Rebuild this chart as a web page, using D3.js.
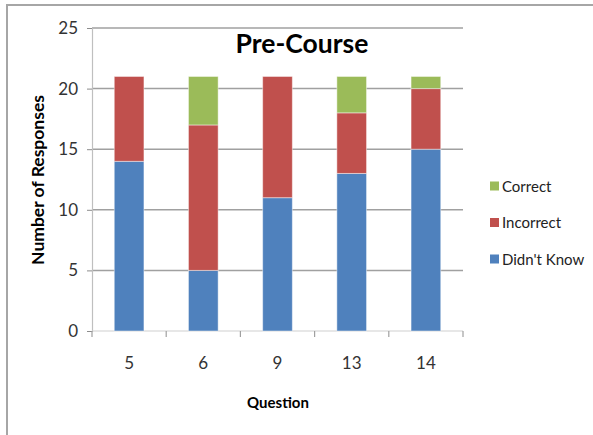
<!DOCTYPE html>
<html>
<head>
<meta charset="utf-8">
<script src="https://cdn.jsdelivr.net/npm/d3@7/dist/d3.min.js"></script>
<style>
  html, body { margin: 0; padding: 0; background: #fff; }
  svg { display: block; }
  text { font-family: Lato, "Open Sans", sans-serif; }
</style>
</head>
<body>
<svg id="chart" width="593" height="435"></svg>
<script>
// Survey responses per question, stacked by answer type
const questions = ["5", "6", "9", "13", "14"];
const didntKnow = [14, 5, 11, 13, 15];
const incorrect = [7, 12, 10, 5, 5];
const correct   = [0, 4, 0, 3, 1];
const seriesNames = ["Didn't Know", "Incorrect", "Correct"];
const seriesColors = ["#4F81BD", "#C0504D", "#9BBB59"];
const yTicks = [0, 5, 10, 15, 20, 25];

const svg = d3.select("#chart");
const W = 593, H = 435;
const m = { left: 92, right: 463, top: 28, bottom: 331 };

// frame: top and left edges
svg.append("path")
  .attr("d", `M7,${H} L7,5 L${W},5`)
  .attr("fill", "none").attr("stroke", "#a6a6a6").attr("stroke-width", 2);

const rows = questions.map((q, i) => ({
  q, "Didn't Know": didntKnow[i], "Incorrect": incorrect[i], "Correct": correct[i]
}));
const stacked = d3.stack().keys(seriesNames)(rows);

const x = d3.scaleBand().domain(questions).range([m.left, m.right]).paddingInner(0.6).paddingOuter(0.3);
const xb = d3.scaleBand().domain(questions).range([m.left, m.right]);
const y = d3.scaleLinear().domain([0, 25]).range([m.bottom, m.top]);

// horizontal gridlines
svg.append("g").selectAll("line").data(yTicks.filter(d => d > 0)).join("line")
  .attr("x1", m.left).attr("x2", m.right)
  .attr("y1", d => y(d)).attr("y2", d => y(d))
  .attr("stroke", "#a0a0a0").attr("stroke-width", 1.5);

// y axis
const yAxis = svg.append("g").attr("transform", `translate(${m.left},0)`)
  .call(d3.axisLeft(y).tickValues(yTicks).tickSize(5).tickPadding(9));
yAxis.select(".domain").attr("stroke", "#bfbfbf").attr("stroke-width", 1.2);
yAxis.selectAll(".tick line").attr("stroke", "#8c8c8c");
yAxis.selectAll("text").attr("font-size", 17).attr("fill", "#333");

// x axis with ticks at category boundaries
const xg = svg.append("g").attr("transform", `translate(0,${m.bottom})`);
xg.append("line").attr("x1", m.left).attr("x2", m.right)
  .attr("stroke", "#d0d0d0").attr("stroke-width", 1.2);
const bounds = questions.map(q => xb(q)).concat([m.right]);
xg.selectAll("line.tk").data(bounds).join("line").attr("class", "tk")
  .attr("x1", d => d).attr("x2", d => d).attr("y1", 0).attr("y2", 6)
  .attr("stroke", "#a0a0a0").attr("stroke-width", 1.2);
xg.selectAll("text").data(questions).join("text")
  .attr("x", d => xb(d) + xb.bandwidth() / 2).attr("y", 38)
  .attr("text-anchor", "middle").attr("font-size", 17).attr("fill", "#333")
  .text(d => d);

// stacked bars
svg.append("g").selectAll("g").data(stacked).join("g")
  .attr("fill", (d, i) => seriesColors[i])
  .selectAll("rect").data(d => d.filter(s => s[1] > s[0])).join("rect")
  .attr("x", d => x(d.data.q))
  .attr("width", x.bandwidth())
  .attr("y", d => y(d[1]))
  .attr("height", d => y(d[0]) - y(d[1]))
  .attr("stroke", "rgba(255,255,255,0.45)").attr("stroke-width", 1);

// title
svg.append("text").attr("x", 302).attr("y", 53)
  .attr("text-anchor", "middle").attr("font-size", 26.5).attr("font-weight", "bold")
  .attr("fill", "#000").text("Pre-Course");

// axis titles
svg.append("text").attr("x", 278).attr("y", 408)
  .attr("text-anchor", "middle").attr("font-size", 15).attr("font-weight", "bold")
  .text("Question");
svg.append("text").attr("transform", "translate(44,180) rotate(-90)")
  .attr("text-anchor", "middle").attr("font-size", 17.5).attr("font-weight", "bold")
  .text("Number of Responses");

// legend, top entry is the top of the stack
const legendOrder = [2, 1, 0];
const lg = svg.append("g").selectAll("g").data(legendOrder).join("g")
  .attr("transform", (d, i) => `translate(490,${186 + i * 36.5})`);
lg.append("rect").attr("x", 0).attr("y", -4.5).attr("width", 9).attr("height", 9)
  .attr("fill", d => seriesColors[d]);
lg.append("text").attr("x", 12).attr("y", 5.5).attr("font-size", 15).attr("fill", "#222")
  .text(d => seriesNames[d]);
</script>
</body>
</html>
